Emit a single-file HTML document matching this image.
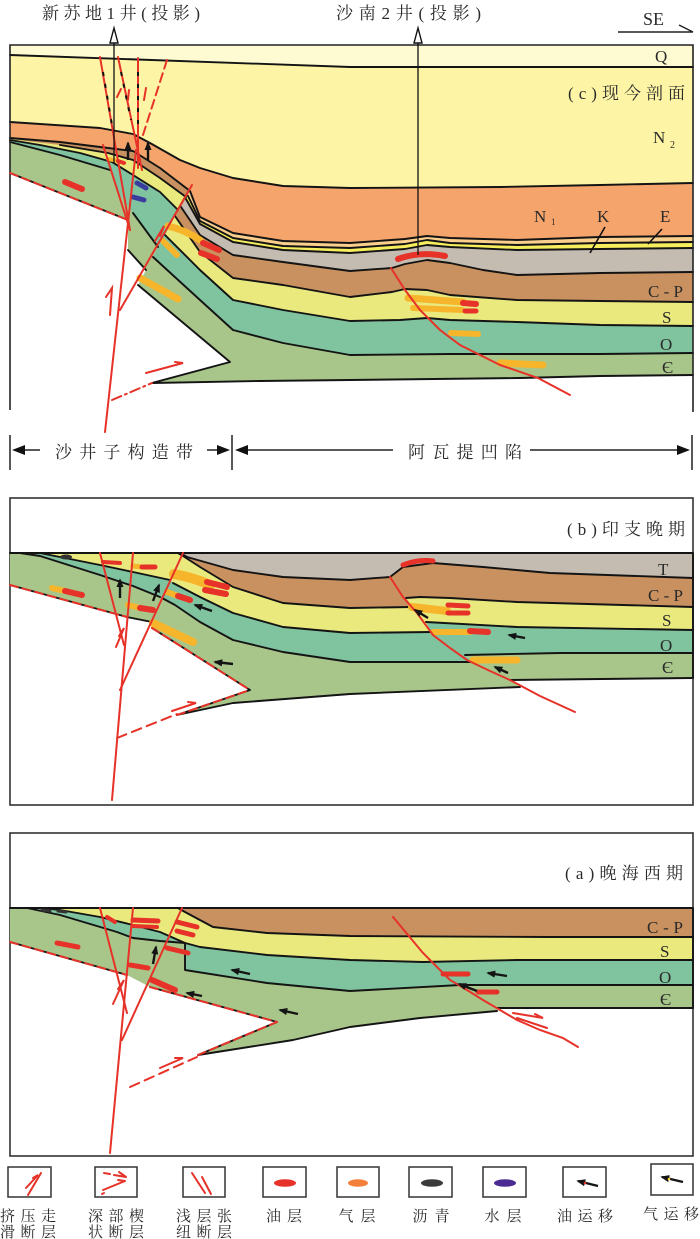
<!DOCTYPE html>
<html><head><meta charset="utf-8"><style>
html,body{margin:0;padding:0;background:#fff;}
svg{display:block;}
.t{font-family:"Liberation Serif","Noto Serif CJK SC",serif;fill:#2a2a2a;}
.bl{fill:none;stroke:#141414;stroke-width:1.9;stroke-linejoin:round;stroke-linecap:round;}
.rf{fill:none;stroke:#e63228;stroke-width:2;stroke-linecap:round;}
.gs{fill:none;stroke:#f7b52c;stroke-linecap:round;}
.oil{fill:none;stroke:#e63228;stroke-linecap:round;}
.ar{fill:none;stroke:#141414;stroke-width:2.4;marker-end:url(#ah);}
</style></head><body>
<svg width="700" height="1239" viewBox="0 0 700 1239" xmlns="http://www.w3.org/2000/svg">
<defs>
<marker id="ah" viewBox="0 0 10 8" refX="8" refY="4" markerWidth="9" markerHeight="8" markerUnits="userSpaceOnUse" orient="auto"><path d="M0,0 L10,4 L0,8 Z" fill="#141414"/></marker>
</defs>
<rect width="700" height="1239" fill="#fff"/>

<!-- ================= PANEL C ================= -->
<path fill="#a9c68a" d="M10,125 L693,125 L693,375 L600,376 L520,378 L350,380 L260,381 L152,383 L230,362 L138,285 L146,270 L128,250 L128,220 L10,173 Z"/>
<path fill="#7fc39f" d="M10,45 L693,45 L693,353 L600,354 L517,354 L450,354 L350,355 L283,343 L233,330 L200,300 L153,257 L158,247 L133,213 L120,195 L110,170 L60,155 L10,142 Z"/>
<path fill="#e9e97e" d="M10,45 L693,45 L693,326 L600,325 L517,322 L450,320 L427,318 L400,320 L350,321 L283,310 L233,300 L200,270 L165,235 L178,210 L160,192 L133,175 L112,162 L80,153 L40,145 L10,140 Z"/>
<path fill="#c9915f" d="M10,45 L693,45 L693,302 L600,301 L517,300 L450,295 L427,290 L405,289 L392,292 L350,297 L283,285 L233,278 L200,252 L175,216 L186,197 L160,178 L133,160 L108,153 L60,145 L10,139 Z"/>
<path fill="#c5bcb1" d="M10,45 L693,45 L693,272 L600,273 L517,275 L483,270 L450,263 L427,260 L405,264 L392,268 L350,271 L283,262 L233,255 L200,235 L181,207 L190,191 L160,168 L133,151 L108,148 L60,142 L10,138 Z"/>
<path fill="#f6ee5c" d="M10,45 L693,45 L693,248 L600,249 L517,250 L450,247 L427,245 L405,249 L350,253 L283,250 L233,242 L200,224 L186,199 L190,191 L160,168 L133,151 L108,148 L60,142 L10,138 Z"/>
<path fill="#fbcf8c" d="M10,45 L693,45 L693,242 L600,243 L517,245 L450,243 L427,240 L405,244 L350,248 L283,246 L233,238 L200,221 L188,196 L190,191 L160,168 L133,151 L108,148 L60,142 L10,138 Z"/>
<path fill="#f5a56c" d="M10,45 L693,45 L693,236 L600,237 L517,240 L450,238 L427,236 L405,239 L350,243 L283,241 L233,233 L200,217 L190,191 L160,168 L133,151 L108,148 L60,142 L10,138 Z"/>
<path fill="#fdf5a5" d="M10,45 L693,45 L693,183 L600,185 L500,187 L350,188 L283,186 L233,178 L200,168 L180,160 L150,143 L133,134 L100,128 L10,122 Z"/>
<path fill="#fefbd2" d="M10,45 L693,45 L693,67 L350,67 L10,55 Z"/>

<path class="bl" d="M693,375 L600,376 L520,378 L350,380 L260,381 L152,383 L230,362 L138,285 M146,270 L128,250 M128,220 L10,173"/>
<path class="bl" d="M693,353 L600,354 L517,354 L450,354 L350,355 L283,343 L233,330 L200,300 L153,257 M158,247 L133,213 M110,170 L60,155 L10,142"/>
<path class="bl" d="M693,326 L600,325 L517,322 L450,320 L427,318 L400,320 L350,321 L283,310 L233,300 L200,270 L165,235 M178,210 L160,192 L133,175 L112,162 L80,153 L40,145 L10,140"/>
<path class="bl" d="M693,302 L600,301 L517,300 L450,295 L427,290 L405,289 L392,292 L350,297 L283,285 L233,278 L200,252 L175,216 M186,197 L160,178 L133,160 L108,153 L60,145"/>
<path class="bl" d="M693,272 L600,273 L517,275 L483,270 L450,263 L427,260 L405,264 L392,268 L350,271 L283,262 L233,255 L200,235 L181,207"/>
<path class="bl" stroke-width="1.5" d="M693,248 L600,249 L517,250 L450,247 L427,245 L405,249 L350,253 L283,250 L233,242 L200,224 L186,199"/>
<path class="bl" stroke-width="1.5" d="M693,242 L600,243 L517,245 L450,243 L427,240 L405,244 L350,248 L283,246 L233,238 L200,221 L188,196"/>
<path class="bl" d="M693,236 L600,237 L517,240 L450,238 L427,236 L405,239 L350,243 L283,241 L233,233 L200,217 L190,191 L160,168 L133,151 L108,148 L60,142 L10,138"/>
<path class="bl" d="M693,183 L600,185 L500,187 L350,188 L283,186 L233,178 L200,168 L180,160 L150,143 L133,134 L100,128 L10,122"/>
<path class="bl" d="M693,67 L350,67 L10,55"/>
<path fill="none" stroke="#222" stroke-width="1.6" d="M10,410 L10,45 L693,45 L693,412"/>

<!-- spots c -->
<path class="gs" stroke-width="7" d="M168,226 Q185,230 200,240"/>
<path class="gs" stroke-width="6" d="M163,241 L177,255"/>
<path class="gs" stroke-width="7" d="M140,278 L178,299"/>
<path class="gs" stroke-width="7" d="M408,298 L463,302"/>
<path class="gs" stroke-width="6" d="M413,308 L462,310"/>
<path class="gs" stroke-width="6" d="M451,333 L478,334"/>
<path class="gs" stroke-width="7" d="M500,363 L543,365"/>
<path class="gs" stroke-width="4" d="M108,159 L118,161"/>
<path class="oil" stroke-width="6" d="M203,243 L219,250"/>
<path class="oil" stroke-width="6" d="M201,253 L217,259"/>
<path class="oil" stroke-width="6" d="M463,303 L476,304"/>
<path class="oil" stroke-width="5" d="M465,311 L476,311"/>
<path class="oil" stroke-width="6" d="M398,259 Q420,251 445,256"/>
<path class="oil" stroke-width="6" d="M65,182 L82,189"/>
<path class="oil" stroke-width="4" d="M118,161 L124,163"/>
<path fill="none" stroke="#3a3d9e" stroke-width="5" stroke-linecap="round" d="M137,183 L146,188 M133,197 L144,200"/>

<!-- faults c -->
<path class="rf" d="M100,57 L130,230"/>
<path class="rf" d="M118,57 L142,170"/>
<path class="rf" d="M138,58 L138,168"/>
<path class="rf" stroke-dasharray="9 5" d="M167,60 L143,135"/>
<path fill="none" stroke="#111" stroke-width="2" stroke-dasharray="4 8" d="M103,72 L112,125 M121,72 L131,120 M138,72 L138,130"/>
<path class="rf" d="M103,145 L130,230"/>
<path class="rf" d="M136,150 L105,432"/>
<path class="rf" d="M192,185 L120,310"/>
<path class="rf" stroke-dasharray="8 5" d="M10,173 L128,220"/>
<path class="rf" d="M110,315 L112,288 L106,297"/>
<path class="rf" d="M155,241 L164,226 L160,236"/>
<path class="rf" stroke-dasharray="10 4 2 4" d="M112,400 L152,383"/>
<path class="rf" d="M146,373 L183,363 L175,362"/>
<path class="rf" d="M117,97 L121,89 M128,100 L129,90 M144,100 L146,88"/>
<path class="rf" d="M391,268 L405,290 L420,310 L440,330 L460,345 L500,365 L538,378 L570,395"/>

<!-- arrows c -->
<path class="ar" d="M128,160 L128,143"/>
<path class="ar" d="M148,160 L148,143"/>

<!-- wells -->
<line x1="114" y1="42" x2="114" y2="163" stroke="#111" stroke-width="1.3"/>
<path d="M114,28 L110,43 L118,43 Z" fill="#fff" stroke="#111" stroke-width="1.4"/>
<line x1="418" y1="42" x2="418" y2="255" stroke="#111" stroke-width="1.3"/>
<path d="M418,28 L414,43 L422,43 Z" fill="#fff" stroke="#111" stroke-width="1.4"/>

<!-- labels c -->
<text class="t" x="42" y="19" font-size="17" textLength="158" lengthAdjust="spacing">新苏地1井(投影)</text>
<text class="t" x="336" y="19" font-size="17" textLength="145" lengthAdjust="spacing">沙南2井(投影)</text>
<text class="t" x="643" y="25" font-size="18">SE</text>
<path fill="none" stroke="#222" stroke-width="1.4" d="M618,32 L693,32 M679,25 L693,32"/>
<text class="t" x="655" y="62" font-size="17">Q</text>
<text class="t" x="568" y="99" font-size="17" textLength="117" lengthAdjust="spacing">(c)现今剖面</text>
<text class="t" x="653" y="143" font-size="17">N</text><text class="t" x="670" y="148" font-size="10">2</text>
<text class="t" x="534" y="222" font-size="17">N</text><text class="t" x="551" y="225" font-size="9">1</text>
<text class="t" x="597" y="222" font-size="17">K</text>
<text class="t" x="660" y="222" font-size="17">E</text>
<path fill="none" stroke="#111" stroke-width="1.6" d="M605,227 L590,253 M662,229 L648,244"/>
<text class="t" x="648" y="297" font-size="17" textLength="35" lengthAdjust="spacing">C-P</text>
<text class="t" x="662" y="323" font-size="17">S</text>
<text class="t" x="660" y="350" font-size="17">O</text>
<text class="t" x="662" y="373" font-size="17">Є</text>

<!-- dimension line -->
<path fill="none" stroke="#222" stroke-width="1.5" d="M10,435 L10,470 M232,435 L232,470 M692,435 L692,470 M24,450 L40,450 M207,450 L220,450 M247,450 L393,450 M530,450 L677,450"/>
<path fill="#111" d="M12,450 L25,445 L25,455 Z M230,450 L217,445 L217,455 Z M235,450 L248,445 L248,455 Z M690,450 L677,445 L677,455 Z"/>
<text class="t" x="55" y="458" font-size="17" textLength="138" lengthAdjust="spacing">沙井子构造带</text>
<text class="t" x="408" y="458" font-size="17" textLength="114" lengthAdjust="spacing">阿瓦提凹陷</text>

<!-- ================= PANEL B ================= -->
<rect x="10" y="498" width="683" height="307" fill="#fff" stroke="#333" stroke-width="1.6"/>
<path fill="#a9c68a" d="M10,553 L693,553 L693,678 L510,680 L520,687 L350,694 L233,703 L177,715 L250,690 L152,628 L152,622 L127,617 L10,585 Z"/>
<path fill="#7fc39f" d="M10,553 L693,553 L693,653 L560,653 L465,655 L472,662 L350,662 L283,652 L233,640 L200,622 L175,605 L162,598 L133,586 L100,575 L40,556 L20,553 Z"/>
<path fill="#e9e97e" d="M10,553 L693,553 L693,630 L517,627 L426,622 L431,632 L350,633 L283,627 L233,613 L200,597 L173,583 L170,580 L133,572 L100,565 L40,553 Z"/>
<path fill="#c9915f" d="M178,553 L693,553 L693,607 L517,602 L450,598 L420,597 L406,598 L412,607 L350,608 L283,603 L233,587 L200,567 L183,556 Z"/>
<path fill="#c5bcb1" d="M180,553 L693,553 L693,578 L550,573 L483,567 L433,563 L403,567 L390,577 L350,580 L283,577 L233,570 L187,557 Z"/>
<path class="bl" d="M693,678 L510,680 M520,687 L350,694 L233,703 L177,715 L250,690 L152,628 M152,622 L127,617 L10,585"/>
<path class="bl" d="M693,653 L560,653 L465,655 M472,662 L350,662 L283,652 L233,640 L200,622 L175,605 L162,598 M160,597 L133,586 L100,575 L40,556 L20,553"/>
<path class="bl" d="M693,630 L517,627 L426,622 M431,632 L350,633 L283,627 L233,613 L200,597 L173,583 M170,580 L133,572 L100,565 L40,553"/>
<path class="bl" d="M693,607 L517,602 L450,598 L420,597 L406,598 M412,607 L350,608 L283,603 L233,587 L200,567 L183,556 L178,553"/>
<path class="bl" d="M693,578 L550,573 L483,567 L433,563 L403,567 L390,577 L350,580 L283,577 L233,570 L187,557 L180,553"/>
<path class="bl" d="M10,553 L693,553 M693,553 L693,678"/>
<ellipse cx="66" cy="557" rx="6" ry="2.5" fill="#333"/>

<!-- spots b -->
<path class="gs" stroke-width="6" d="M52,588 L65,591"/><path class="oil" stroke-width="6" d="M65,591 L82,595"/>
<path class="oil" stroke-width="4" d="M103,562 L120,563"/>
<path class="gs" stroke-width="5" d="M133,566 L142,567"/><path class="oil" stroke-width="5" d="M142,567 L155,567"/>
<path class="gs" stroke-width="6" d="M128,605 L140,608"/><path class="oil" stroke-width="6" d="M140,608 L153,610"/>
<path class="gs" stroke-width="10" d="M174,574 Q195,578 210,585"/>
<path class="oil" stroke-width="6" d="M207,582 L227,587"/>
<path class="oil" stroke-width="6" d="M205,590 L226,594"/>
<path class="gs" stroke-width="6" d="M167,592 L178,596"/><path class="oil" stroke-width="6" d="M178,596 L190,600"/>
<path class="gs" stroke-width="8" d="M153,623 L193,642"/>
<path class="gs" stroke-width="8" d="M412,607 L447,611"/>
<path class="oil" stroke-width="5" d="M448,605 L468,606 M448,613 L468,613"/>
<path class="gs" stroke-width="6" d="M433,632 L470,632"/><path class="oil" stroke-width="6" d="M470,631 L488,632"/>
<path class="gs" stroke-width="7" d="M473,660 L517,660"/>
<path class="oil" stroke-width="5" d="M403,565 Q418,559 433,561"/>

<!-- faults b -->
<path class="rf" d="M100,553 L124,645"/>
<path class="rf" d="M133,553 L112,800"/>
<path class="rf" d="M183,553 L120,690"/>
<path class="rf" stroke-dasharray="8 5" d="M10,585 L127,617 M152,628 L250,690 M177,715 L250,690"/>
<path class="rf" d="M116,647 L124,628 L119,636"/>
<path class="rf" stroke-dasharray="10 6" d="M117,738 L177,714"/>
<path class="rf" d="M172,711 L196,703 L188,702"/>
<path class="rf" d="M390,577 L403,597 L417,613 L433,635 L450,648 L467,660 L490,671 L510,680 L540,696 L575,712"/>

<!-- arrows b -->
<path class="ar" d="M120,598 L120,580"/>
<path class="ar" d="M153,601 L159,585"/>
<path class="ar" d="M212,611 L195,605"/>
<path class="ar" d="M233,664 L215,662"/>
<path class="ar" d="M428,618 L415,610"/>
<path class="ar" d="M525,638 L509,635"/>
<path class="ar" d="M508,673 L495,667"/>

<text class="t" x="567" y="535" font-size="17" textLength="118" lengthAdjust="spacing">(b)印支晚期</text>
<text class="t" x="658" y="575" font-size="17">T</text>
<text class="t" x="648" y="601" font-size="17" textLength="35" lengthAdjust="spacing">C-P</text>
<text class="t" x="662" y="626" font-size="17">S</text>
<text class="t" x="660" y="651" font-size="17">O</text>
<text class="t" x="662" y="673" font-size="17">Є</text>

<!-- ================= PANEL A ================= -->
<rect x="10" y="833" width="683" height="323" fill="#fff" stroke="#333" stroke-width="1.6"/>
<path fill="#a9c68a" d="M10,908 L693,908 L693,1008 L497,1008 L497,1011 L420,1018 L350,1027 L293,1040 L198,1055 L277,1022 L150,987 L127,975 L10,942 Z"/>
<path fill="#7fc39f" d="M10,908 L693,908 L693,985 L460,985 L350,991 L267,983 L185,970 L185,943 L160,941 L133,938 L117,932 L60,915 L27,908 Z"/>
<path fill="#e9e97e" d="M10,908 L693,908 L693,960 L517,960 L423,962 L350,960 L267,955 L200,947 L185,943 L160,932 L133,925 L100,917 L60,910 L45,908 Z"/>
<path fill="#c9915f" d="M178,908 L693,908 L693,937 L550,937 L350,936 L267,933 L213,927 L185,912 Z"/>
<path class="bl" d="M693,1008 L497,1008 M497,1011 L420,1018 L350,1027 L293,1040 L198,1055 L277,1022 L150,987 M127,975 L10,942"/>
<path class="bl" d="M693,985 L460,985 L350,991 L267,983 L185,970 L185,943 L160,941 L133,938 L117,932 L60,915 L27,908"/>
<path class="bl" d="M693,960 L517,960 L423,962 L350,960 L267,955 L200,947 L185,943 L160,932 L133,925 L100,917 L60,910 L45,908"/>
<path class="bl" d="M693,937 L550,937 L350,936 L267,933 L213,927 L185,912 L178,908"/>
<path class="bl" d="M10,908 L693,908 M693,908 L693,1008"/>
<path fill="none" stroke="#333" stroke-width="3" stroke-linecap="round" d="M42,910 L50,911 M58,911 L66,912"/>

<!-- spots a -->
<path class="oil" stroke-width="5" d="M57,943 L78,947"/>
<path class="oil" stroke-width="4" d="M107,917 L115,922"/>
<path class="oil" stroke-width="5" d="M133,920 L158,921"/>
<path class="oil" stroke-width="4" d="M133,926 L157,927"/>
<path class="oil" stroke-width="5" d="M177,922 L197,927 M177,931 L193,935"/>
<path class="oil" stroke-width="5" d="M167,948 L188,953"/>
<path class="oil" stroke-width="5" d="M130,965 L148,968"/>
<path class="oil" stroke-width="6" d="M152,980 L175,990"/>
<path class="oil" stroke-width="5" d="M443,974 L468,974"/>
<path class="oil" stroke-width="5" d="M478,992 L497,992"/>

<!-- faults a -->
<path class="rf" d="M100,908 L127,1013"/>
<path class="rf" d="M133,908 L110,1153"/>
<path class="rf" d="M182,908 L122,1040"/>
<path class="rf" stroke-dasharray="8 5" d="M10,942 L127,975 M150,987 L277,1022 M198,1055 L277,1022"/>
<path class="rf" d="M113,1004 L124,980 L118,989"/>
<path class="rf" stroke-dasharray="10 6" d="M130,1087 L197,1057"/>
<path class="rf" d="M160,1068 L183,1058 L175,1058"/>
<path class="rf" d="M393,917 L408,935 L423,953 L437,967 L450,980 L467,990 L483,1000 L500,1010 L517,1020 L540,1030 L563,1038 L578,1047"/>
<path class="rf" d="M513,1013 L543,1018 L535,1014 M517,1018 L547,1028"/>

<!-- arrows a -->
<path class="ar" d="M153,964 L156,947"/>
<path class="ar" d="M250,974 L232,970"/>
<path class="ar" d="M202,996 L187,993"/>
<path class="ar" d="M298,1014 L280,1010"/>
<path class="ar" d="M507,976 L488,973"/>
<path class="ar" d="M477,991 L459,984"/>

<text class="t" x="565" y="879" font-size="17" textLength="118" lengthAdjust="spacing">(a)晚海西期</text>
<text class="t" x="647" y="933" font-size="17" textLength="36" lengthAdjust="spacing">C-P</text>
<text class="t" x="660" y="957" font-size="17">S</text>
<text class="t" x="659" y="983" font-size="17">O</text>
<text class="t" x="660" y="1005" font-size="17">Є</text>

<!-- ================= LEGEND ================= -->
<g fill="#fff" stroke="#333" stroke-width="1.5">
<rect x="8" y="1167" width="43" height="30"/>
<rect x="95" y="1167" width="42" height="30"/>
<rect x="183" y="1167" width="42" height="30"/>
<rect x="263" y="1167" width="43" height="30"/>
<rect x="337" y="1167" width="42" height="30"/>
<rect x="409" y="1167" width="43" height="30"/>
<rect x="483" y="1167" width="43" height="30"/>
<rect x="563" y="1167" width="43" height="30"/>
<rect x="651" y="1164" width="42" height="31"/>
</g>
<path class="rf" d="M28,1195 L41,1173 M26,1188 L38,1175 L33,1178"/>
<path class="rf" stroke-width="1.8" d="M104,1173 L110,1174 M114,1175 L126,1177 M119,1172 L126,1177 M103,1190 L125,1181 M118,1180 L125,1181 M102,1194 L104,1193"/>
<path class="rf" d="M192,1173 L205,1193 M202,1177 L211,1194"/>
<ellipse cx="285" cy="1183" rx="11" ry="3.8" fill="#e63228"/>
<ellipse cx="358" cy="1183" rx="10" ry="3.8" fill="#f47f3b"/>
<ellipse cx="432" cy="1183" rx="11" ry="3.8" fill="#3b3b3b"/>
<ellipse cx="505" cy="1183" rx="11" ry="3.8" fill="#4b2a92"/>
<path class="ar" d="M598,1186 L578,1181"/><circle cx="585" cy="1183" r="1.3" fill="#e63228"/>
<path class="ar" d="M683,1182 L662,1177"/><circle cx="669" cy="1179" r="1.3" fill="#f7d52c"/>

<g font-size="15" text-anchor="middle">
<text class="t" x="28" y="1221" textLength="56" lengthAdjust="spacing">挤压走</text>
<text class="t" x="28" y="1237" textLength="56" lengthAdjust="spacing">滑断层</text>
<text class="t" x="116" y="1221" textLength="56" lengthAdjust="spacing">深部楔</text>
<text class="t" x="116" y="1237" textLength="56" lengthAdjust="spacing">状断层</text>
<text class="t" x="204" y="1221" textLength="56" lengthAdjust="spacing">浅层张</text>
<text class="t" x="204" y="1237" textLength="56" lengthAdjust="spacing">纽断层</text>
<text class="t" x="284" y="1221" textLength="36" lengthAdjust="spacing">油层</text>
<text class="t" x="357" y="1221" textLength="37" lengthAdjust="spacing">气层</text>
<text class="t" x="431" y="1221" textLength="37" lengthAdjust="spacing">沥青</text>
<text class="t" x="503" y="1221" textLength="37" lengthAdjust="spacing">水层</text>
<text class="t" x="585" y="1221" textLength="56" lengthAdjust="spacing">油运移</text>
<text class="t" x="671" y="1219" textLength="56" lengthAdjust="spacing">气运移</text>
</g>
</svg>
</body></html>
